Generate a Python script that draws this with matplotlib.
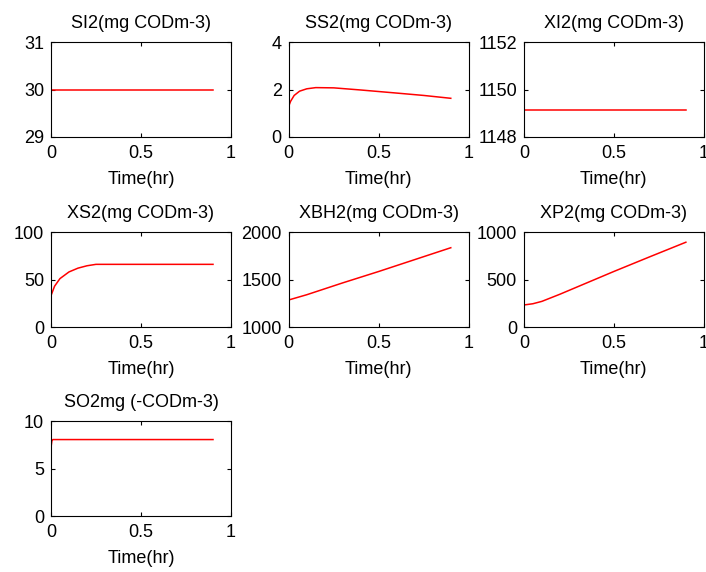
import matplotlib
matplotlib.use('Agg')
import matplotlib.pyplot as plt

plt.rcParams['font.family'] = ['Liberation Sans', 'DejaVu Sans']
plt.rcParams['font.size'] = 13

# time points (hr) and values
t_flat = [0.0, 0.9]
si2 = [30.0, 30.0]
xi2 = [1149.15, 1149.15]

t_ss2 = [0.0, 0.01, 0.03, 0.06, 0.1, 0.15, 0.25, 0.4, 0.6, 0.75, 0.9]
ss2 = [1.3, 1.5, 1.75, 1.93, 2.03, 2.08, 2.07, 1.98, 1.85, 1.75, 1.63]

t_xs2 = [0.0, 0.01, 0.02, 0.05, 0.1, 0.15, 0.2, 0.25, 0.9]
xs2 = [33.0, 38.0, 43.0, 51.0, 58.0, 62.0, 64.5, 66.0, 66.0]

t_lin = [0.0, 0.1, 0.3, 0.5, 0.7, 0.9]
xbh2 = [1285.0, 1340.0, 1465.0, 1585.0, 1710.0, 1835.0]

t_xp2 = [0.0, 0.05, 0.1, 0.2, 0.3, 0.5, 0.7, 0.9]
xp2 = [232.0, 245.0, 270.0, 345.0, 425.0, 585.0, 740.0, 893.0]

t_so2 = [0.0, 0.005, 0.01, 0.9]
so2 = [7.2, 7.9, 8.05, 8.05]

titles = ['SI2(mg CODm-3)', 'SS2(mg CODm-3)', 'XI2(mg CODm-3)',
          'XS2(mg CODm-3)', 'XBH2(mg CODm-3)', 'XP2(mg CODm-3)',
          'SO2mg (-CODm-3)']
series = [(t_flat, si2), (t_ss2, ss2), (t_flat, xi2),
          (t_xs2, xs2), (t_lin, xbh2), (t_xp2, xp2),
          (t_so2, so2)]
ylims = [(29, 31), (0, 4), (1148, 1152),
         (0, 100), (1000, 2000), (0, 1000),
         (0, 10)]

fig = plt.figure(figsize=(7.06, 5.72), dpi=100)

lefts = [0.0722, 0.409, 0.742]
bottoms = [0.7605, 0.4283, 0.0979]
w, h = 0.255, 0.166

for i in range(7):
    r, c = divmod(i, 3)
    ax = fig.add_axes([lefts[c], bottoms[r], w, h])
    x, y = series[i]
    ax.plot(x, y, color='red', lw=1.1)
    lo, hi = ylims[i]
    ax.set_xlim(0, 1)
    ax.set_ylim(lo, hi)
    ax.set_xticks([0, 0.5, 1])
    ax.set_xticklabels(['0', '0.5', '1'])
    ax.set_yticks([lo, (lo + hi) / 2, hi])
    ax.set_yticklabels([f'{v:g}' for v in [lo, (lo + hi) / 2, hi]])
    ax.tick_params(direction='in', top=True, right=True, length=3, labelsize=13)
    ax.tick_params(axis='x', pad=6)
    ax.tick_params(axis='y', pad=5)
    ax.set_title(titles[i], fontsize=13, pad=10)
    ax.set_xlabel('Time(hr)', labelpad=6)
    for s in ax.spines.values():
        s.set_linewidth(0.8)

fig.savefig('out.png', dpi=100)
